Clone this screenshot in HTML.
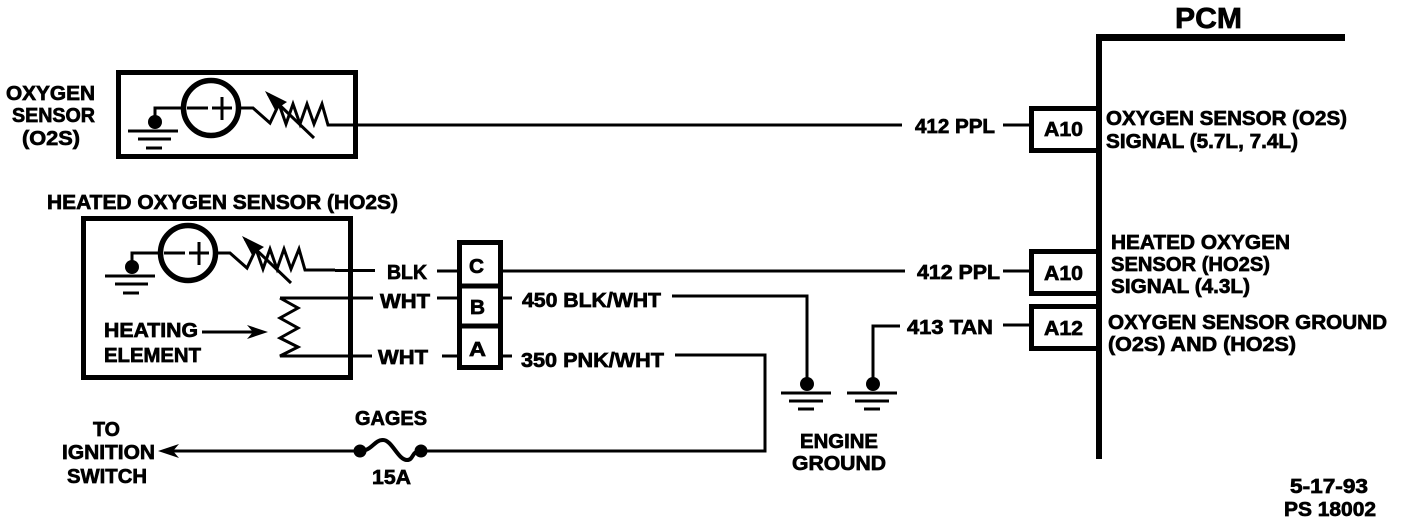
<!DOCTYPE html>
<html>
<head>
<meta charset="utf-8">
<style>
html,body{margin:0;padding:0;background:#fff;width:1408px;height:524px;overflow:hidden}
svg{display:block}
text{font-family:"Liberation Sans",sans-serif;font-weight:700;font-size:20px;fill:#000;stroke:#000;stroke-width:.7}
.w{fill:none;stroke:#000;stroke-width:3}
.b{fill:none;stroke:#000;stroke-width:5}
</style>
</head>
<body>
<svg width="1408" height="524" viewBox="0 0 1408 524" xmlns="http://www.w3.org/2000/svg">
<defs>
<g id="sensor">
  <circle cx="211" cy="108" r="27.500" fill="none" stroke="#000" stroke-width="5.500"/>
  <path class="w" d="M187 108H208M212 108H232M222 97V120"/>
  <path class="w" d="M181 108H155V120"/>
  <circle cx="155" cy="122" r="7"/>
  <path class="w" d="M128 131H178M138 139H171M146 148H162"/>
  <path class="w" d="M241 108H253L270 123L279 104L286 124L293 104L300 124L307 104L314 124L322 104L328 125H358"/>
  <path class="w" d="M314 138L268 94"/>
  <path d="M265 91L287 102L275 110Z"/>
</g>
<g id="gnd">
  <circle cx="0" cy="-9" r="7"/>
  <path class="w" d="M-26 0H24M-18 8H16M-9 16H7"/>
</g>
</defs>

<!-- Oxygen sensor -->
<rect class="b" x="118.500" y="72.500" width="237" height="84"/>
<use href="#sensor"/>
<path class="w" d="M355 125H902M1003 125H1031"/>

<!-- Heated sensor -->
<rect class="b" x="83.500" y="218.500" width="267" height="159"/>
<use href="#sensor" transform="translate(-23 145)"/>
<path class="w" d="M335 270.500H375M437 271H457"/>
<path class="w" d="M437 298H457M280 298H373M280 298L298 308L280 318L298 328L280 338L298 347L280 356H372M442 356H457"/>
<path class="w" d="M202 332H262"/>
<path d="M268 332L247 325L253 332L247 339Z"/>

<!-- Connector -->
<rect class="b" x="459.500" y="242.500" width="41" height="125"/>
<path class="b" d="M459 286H501M459 326H501"/>

<!-- Wires right of connector -->
<path class="w" d="M503 271H905M1003 271H1031"/>
<path class="w" d="M503 298H512M672 296H807V380"/>
<path class="w" d="M503 356H512M675 355H765V451H421"/>
<path fill="none" stroke="#000" stroke-width="4" d="M421 451C411 451 414 460 407 460C398 460 392 440 383 440C374 440 372 451 360 451"/>
<circle cx="360" cy="451" r="6.500"/>
<circle cx="421" cy="451" r="6.500"/>
<path class="w" d="M360 451H165"/>
<path d="M158 451L179 444L173 451L179 458Z"/>

<!-- Grounds -->
<use href="#gnd" transform="translate(807 393)"/>
<use href="#gnd" transform="translate(873 393)"/>
<path class="w" d="M900 326H873V380M1003 325H1031"/>

<!-- PCM bus -->
<path d="M1096 34H1345V41H1102V459H1096Z"/>
<path class="b" d="M1099 108.500H1031.500V150.500H1099"/>
<path class="b" d="M1099 251.500H1031.500V293.500H1099"/>
<path class="b" d="M1099 306.500H1031.500V348.500H1099"/>

<!-- Labels -->
<text x="1175" y="28" style="font-size:29px" textLength="67" lengthAdjust="spacingAndGlyphs">PCM</text>
<text x="6" y="100" textLength="89" lengthAdjust="spacingAndGlyphs">OXYGEN</text>
<text x="12" y="122" textLength="83" lengthAdjust="spacingAndGlyphs">SENSOR</text>
<text x="22" y="145" textLength="58" lengthAdjust="spacingAndGlyphs">(O2S)</text>
<text x="47" y="209" textLength="351" lengthAdjust="spacingAndGlyphs">HEATED OXYGEN SENSOR (HO2S)</text>
<text x="915" y="133" textLength="80" lengthAdjust="spacingAndGlyphs">412 PPL</text>
<text x="1044" y="136" textLength="39" lengthAdjust="spacingAndGlyphs">A10</text>
<text x="1106" y="125" textLength="241" lengthAdjust="spacingAndGlyphs">OXYGEN SENSOR (O2S)</text>
<text x="1106" y="148" textLength="192" lengthAdjust="spacingAndGlyphs">SIGNAL (5.7L, 7.4L)</text>
<text x="387" y="279" textLength="40" lengthAdjust="spacingAndGlyphs">BLK</text>
<text x="380" y="308" textLength="50" lengthAdjust="spacingAndGlyphs">WHT</text>
<text x="378" y="364" textLength="50" lengthAdjust="spacingAndGlyphs">WHT</text>
<text x="104" y="337" textLength="94" lengthAdjust="spacingAndGlyphs">HEATING</text>
<text x="104" y="362" textLength="97" lengthAdjust="spacingAndGlyphs">ELEMENT</text>
<text x="469" y="273" textLength="15" lengthAdjust="spacingAndGlyphs">C</text>
<text x="470" y="314" textLength="15" lengthAdjust="spacingAndGlyphs">B</text>
<text x="469" y="356" textLength="17" lengthAdjust="spacingAndGlyphs">A</text>
<text x="917" y="279" textLength="83" lengthAdjust="spacingAndGlyphs">412 PPL</text>
<text x="522" y="307" textLength="139" lengthAdjust="spacingAndGlyphs">450 BLK/WHT</text>
<text x="521" y="367" textLength="143" lengthAdjust="spacingAndGlyphs">350 PNK/WHT</text>
<text x="907" y="334" textLength="86" lengthAdjust="spacingAndGlyphs">413 TAN</text>
<text x="1044" y="280" textLength="39" lengthAdjust="spacingAndGlyphs">A10</text>
<text x="1044" y="335" textLength="39" lengthAdjust="spacingAndGlyphs">A12</text>
<text x="1111" y="249" textLength="179" lengthAdjust="spacingAndGlyphs">HEATED OXYGEN</text>
<text x="1111" y="271" textLength="159" lengthAdjust="spacingAndGlyphs">SENSOR (HO2S)</text>
<text x="1111" y="293" textLength="139" lengthAdjust="spacingAndGlyphs">SIGNAL (4.3L)</text>
<text x="1108" y="329" textLength="279" lengthAdjust="spacingAndGlyphs">OXYGEN SENSOR GROUND</text>
<text x="1108" y="351" textLength="188" lengthAdjust="spacingAndGlyphs">(O2S) AND (HO2S)</text>
<text x="355" y="425" textLength="72" lengthAdjust="spacingAndGlyphs">GAGES</text>
<text x="372" y="484" textLength="39" lengthAdjust="spacingAndGlyphs">15A</text>
<text x="93" y="436" textLength="27" lengthAdjust="spacingAndGlyphs">TO</text>
<text x="62" y="459" textLength="93" lengthAdjust="spacingAndGlyphs">IGNITION</text>
<text x="67" y="483" textLength="80" lengthAdjust="spacingAndGlyphs">SWITCH</text>
<text x="800" y="448" textLength="78" lengthAdjust="spacingAndGlyphs">ENGINE</text>
<text x="792" y="470" textLength="94" lengthAdjust="spacingAndGlyphs">GROUND</text>
<text x="1290" y="493" textLength="78" lengthAdjust="spacingAndGlyphs">5-17-93</text>
<text x="1284" y="516" textLength="92" lengthAdjust="spacingAndGlyphs">PS 18002</text>
</svg>
</body>
</html>
